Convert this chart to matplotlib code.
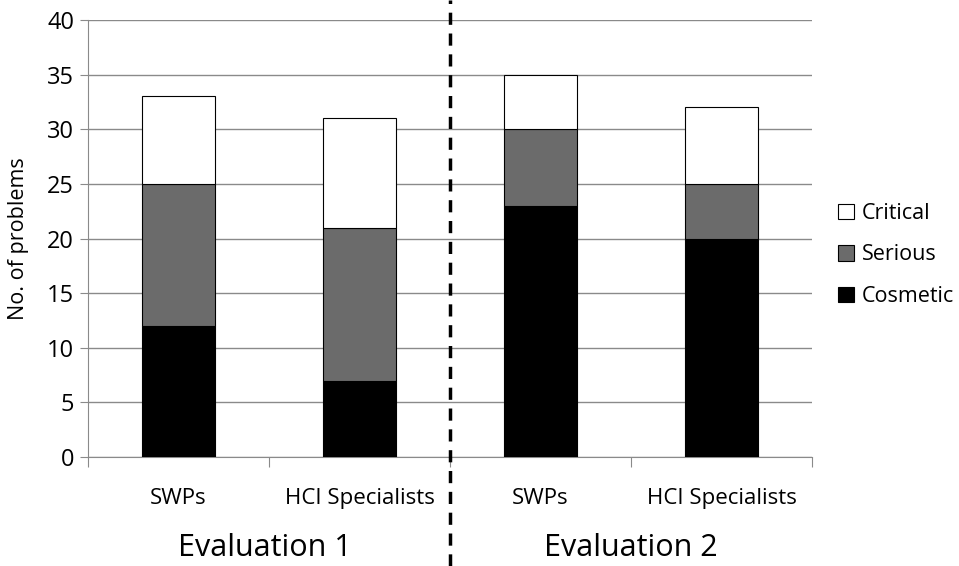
import matplotlib
matplotlib.use("Agg")
import matplotlib.pyplot as plt
from matplotlib.patches import Patch
import numpy as np

categories = ["SWPs", "HCI Specialists", "SWPs", "HCI Specialists"]
evaluations = ["Evaluation 1", "Evaluation 2"]
cosmetic = [12, 7, 23, 20]
serious = [13, 14, 7, 5]
critical = [8, 10, 5, 7]

plt.rcParams['font.family'] = ['Open Sans', 'DejaVu Sans']

fig = plt.figure(figsize=(9.59, 5.66), dpi=100)
ax = fig.add_axes([88/959, 1-457/566, (812-88)/959, (457-20)/566])

x = np.arange(len(categories))
w = 0.4
cos = np.array(cosmetic); ser = np.array(serious); cri = np.array(critical)
ax.bar(x, cos, w, color="black", edgecolor="black", linewidth=0.8, zorder=3)
ax.bar(x, ser, w, bottom=cos, color="#6b6b6b", edgecolor="black", linewidth=0.8, zorder=3)
ax.bar(x, cri, w, bottom=cos+ser, color="white", edgecolor="black", linewidth=0.8, zorder=3)

ax.set_xlim(-0.5, len(categories)-0.5)
ax.set_ylim(0, 40)
ax.set_yticks(range(0, 41, 5))
ax.yaxis.grid(True, color="#8a8a8a", linewidth=1.0, zorder=0)
ax.set_axisbelow(True)
for s in ["top", "right"]:
    ax.spines[s].set_visible(False)
ax.spines["left"].set_color("#8a8a8a")
ax.spines["bottom"].set_color("#8a8a8a")
ax.tick_params(axis="y", length=6, color="#8a8a8a", labelsize=17, pad=4)
ax.set_xticks(np.arange(-0.5, len(categories), 1.0))
ax.set_xticklabels([])
ax.tick_params(axis="x", length=7, direction="out", color="#8a8a8a")
ax.set_xticks(x, minor=True)
ax.set_xticklabels(categories, minor=True, fontsize=16)
ax.tick_params(axis="x", which="minor", length=0, pad=22)

ax.set_ylabel("No. of problems", fontsize=15.5)
ax.yaxis.set_label_coords(-0.082, 0.5)

fig.text(265/959, 1-548/566, evaluations[0], fontsize=22, ha="center", va="center")
fig.text(631/959, 1-548/566, evaluations[1], fontsize=22, ha="center", va="center")

fig.add_artist(plt.Line2D([450/959, 450/959], [0, 1], transform=fig.transFigure,
                          color="black", linewidth=2.5, linestyle=(0, (3.5, 2.5))))

handles = [Patch(facecolor="white", edgecolor="black", linewidth=0.8),
           Patch(facecolor="#6b6b6b", edgecolor="black", linewidth=0.8),
           Patch(facecolor="black", edgecolor="black", linewidth=0.8)]
leg = fig.legend(handles, ["Critical", "Serious", "Cosmetic"], loc="center left",
                 bbox_to_anchor=(838/959, 1-255/566), frameon=False, fontsize=15.5,
                 borderpad=0, borderaxespad=0,
                 handlelength=0.75, handleheight=0.75, handletextpad=0.35, labelspacing=0.95)

fig.savefig("out.png", dpi=100)
